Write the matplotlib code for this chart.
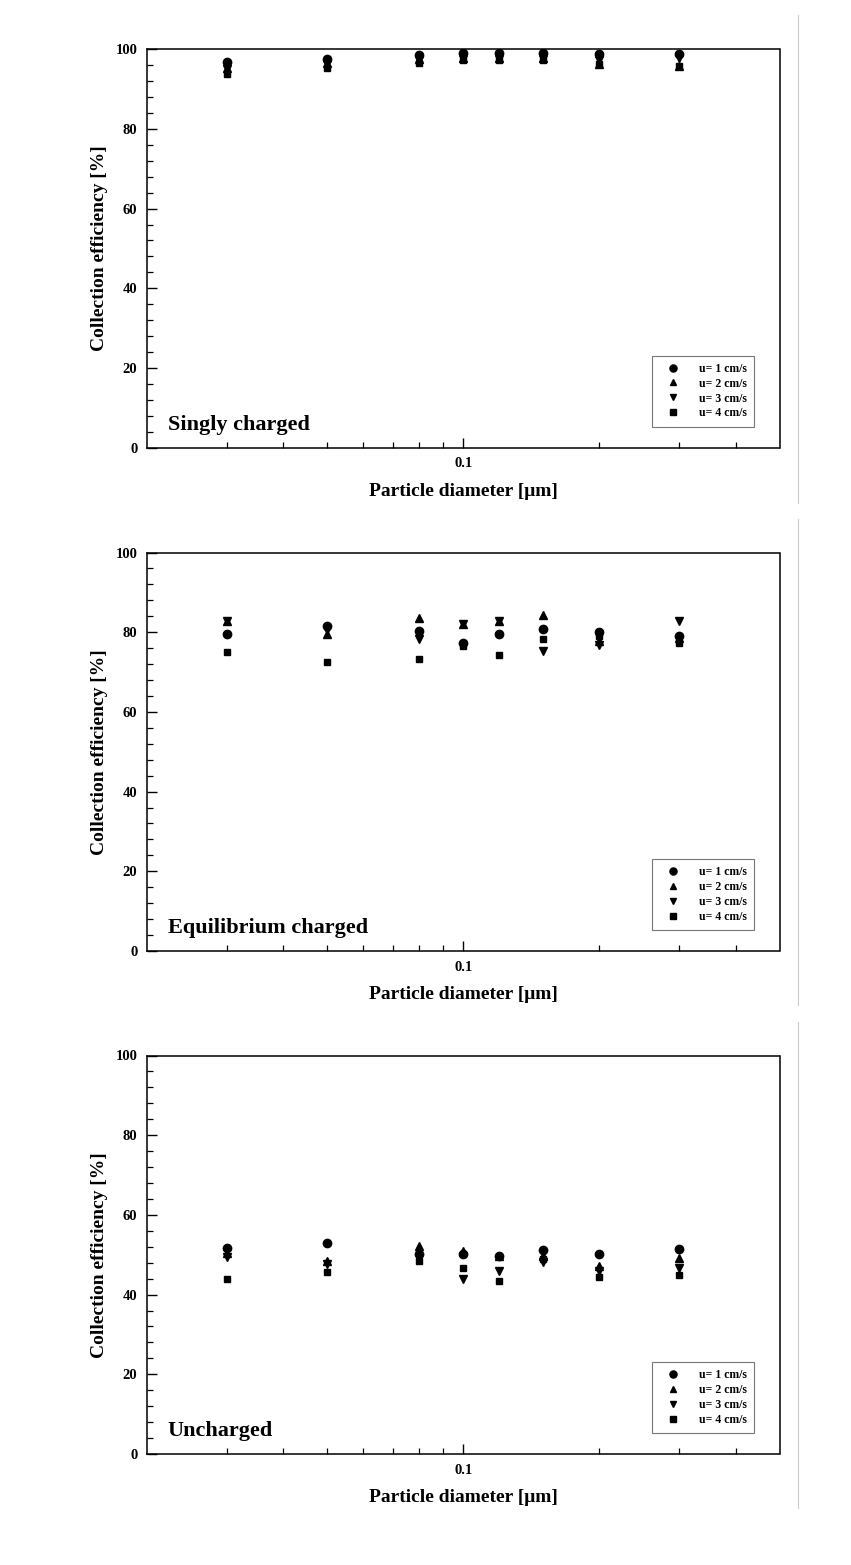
"""Collection efficiency vs particle diameter, three charge states."""

import matplotlib
matplotlib.use("Agg")
import matplotlib.pyplot as plt
from matplotlib.lines import Line2D
from matplotlib.ticker import FixedLocator, NullFormatter

plt.rcParams["font.family"] = ["Liberation Serif", "DejaVu Serif"]
plt.rcParams["font.weight"] = "bold"

diameter = [0.03, 0.05, 0.08, 0.1, 0.12, 0.15, 0.2, 0.3]
velocity_labels = ["u= 1 cm/s", "u= 2 cm/s", "u= 3 cm/s", "u= 4 cm/s"]
panel_titles = ["Singly charged", "Equilibrium charged", "Uncharged"]

singly_u1 = [96.8, 97.5, 98.6, 99.0, 99.0, 99.0, 98.8, 98.9]
singly_u2 = [95.3, 96.5, 97.5, 97.8, 97.8, 97.8, 96.2, 95.9]
singly_u3 = [95.0, 96.3, 97.2, 97.5, 97.5, 97.6, 97.3, 97.8]
singly_u4 = [93.8, 95.3, 96.6, 97.4, 97.2, 97.4, 96.4, 95.9]

equil_u1 = [79.6, 81.5, 80.4, 77.3, 79.6, 80.9, 80.1, 79.0]
equil_u2 = [82.9, 79.6, 83.6, 82.1, 82.9, 84.4, 77.8, 78.5]
equil_u3 = [82.9, 80.5, 78.3, 82.1, 82.9, 75.2, 76.8, 82.7]
equil_u4 = [75.0, 72.4, 73.4, 76.5, 74.3, 78.3, 79.0, 77.3]

unch_u1 = [51.6, 52.9, 50.2, 50.2, 49.8, 51.1, 50.2, 51.4]
unch_u2 = [50.4, 48.5, 52.3, 51.0, 49.6, 49.6, 47.1, 49.3]
unch_u3 = [49.4, 47.7, 49.3, 44.0, 46.0, 48.2, 45.8, 46.8]
unch_u4 = [43.9, 45.6, 48.5, 46.6, 43.5, 49.0, 44.4, 45.0]

panels = [
    [singly_u1, singly_u2, singly_u3, singly_u4],
    [equil_u1, equil_u2, equil_u3, equil_u4],
    [unch_u1, unch_u2, unch_u3, unch_u4],
]

markers = ["o", "^", "v", "s"]
msizes = [6, 5.5, 5.5, 4.5]

W, H = 851, 1565
fig = plt.figure(figsize=(W / 100, H / 100), dpi=100)

left = 147 / W
width = 632.5 / W
height = 398.5 / H
bottoms_px = [447.7, 951, 1454]

for i, (series, title) in enumerate(zip(panels, panel_titles)):
    ax = fig.add_axes([left, 1 - bottoms_px[i] / H, width, height])
    for ys, m, ms, lab in zip(series, markers, msizes, velocity_labels):
        ax.plot(diameter, ys, linestyle="none", marker=m, markersize=ms,
                color="black", label=lab)
    ax.set_xscale("log")
    ax.set_xlim(0.02, 0.5)
    ax.set_ylim(0, 100)
    ax.xaxis.set_major_locator(FixedLocator([0.1]))
    ax.xaxis.set_minor_locator(FixedLocator([0.03, 0.04, 0.05, 0.06, 0.07,
                                             0.08, 0.09, 0.2, 0.3, 0.4]))
    ax.xaxis.set_minor_formatter(NullFormatter())
    ax.set_xticklabels(["0.1"])
    ax.yaxis.set_major_locator(FixedLocator([0, 20, 40, 60, 80, 100]))
    ax.yaxis.set_minor_locator(FixedLocator(list(range(0, 101, 4))))
    ax.tick_params(which="major", direction="in", length=7, width=1.0,
                   labelsize=10.5, pad=7)
    ax.tick_params(which="minor", direction="in", length=4, width=0.9)
    for lbl in ax.get_xticklabels() + ax.get_yticklabels():
        lbl.set_fontweight("bold")
    for sp in ax.spines.values():
        sp.set_linewidth(1.1)
    ax.set_xlabel("Particle diameter [\u03bcm]", fontsize=14,
                  fontweight="bold", labelpad=9)
    ax.set_ylabel("Collection efficiency [%]", fontsize=14,
                  fontweight="bold", labelpad=5)
    ax.text(0.033, 0.044, title, transform=ax.transAxes, fontsize=16,
            fontweight="bold", va="baseline", ha="left")
    leg = ax.legend(loc="lower right", bbox_to_anchor=(0.96, 0.053),
                    borderaxespad=0, fancybox=False, frameon=True,
                    prop={"size": 8.5, "weight": "bold"},
                    handletextpad=1.1, labelspacing=0.25, borderpad=0.6,
                    handlelength=2.3, markerscale=0.85)
    leg.get_frame().set_edgecolor("#555555")
    leg.get_frame().set_linewidth(0.8)

# thin grey page borders at the right of each panel
for y0, y1 in [(15, 503), (519, 1005), (1022, 1508)]:
    fig.add_artist(Line2D([798 / W, 798 / W], [1 - y0 / H, 1 - y1 / H],
                          transform=fig.transFigure, color="#cccccc", lw=0.8))

fig.savefig("out.png", dpi=100)
plt.close(fig)
